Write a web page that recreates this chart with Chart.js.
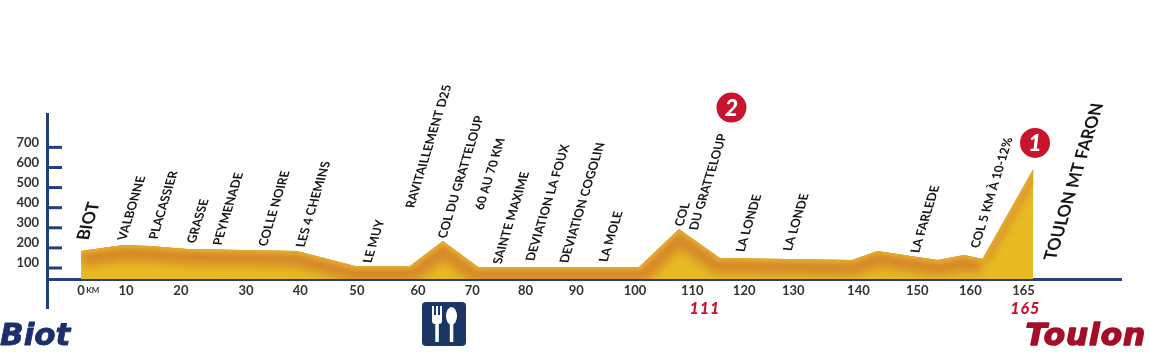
<!DOCTYPE html>
<html>
<head>
<meta charset="utf-8">
<style>
  html, body { margin: 0; padding: 0; background: #fff; }
  #wrap { width: 1149px; height: 355px; }
</style>
<script src="https://cdn.jsdelivr.net/npm/chart.js@4"></script>
</head>
<body>
<div id="wrap"><canvas id="profile"></canvas></div>
<script>
// profile of the stage, x is position along the drawn axis, y is altitude
const profileKm = [0, 7.3, 12, 18.4, 37.4, 47.5, 57, 62.7, 68.8, 96.7, 103.6, 110.7, 133.6, 138, 148.4, 153, 156.2, 165];
const profileAlt = [185, 214, 209, 195, 185, 110, 110, 234, 105, 105, 294, 150, 140, 185, 140, 165, 145, 592];

const altTicks = [100, 200, 300, 400, 500, 600, 700];
const kmTickPos = [0, 7.8, 17.3, 28.6, 38, 47.8, 58.4, 67.8, 77, 85.8, 96, 105.9, 114.9, 123.4, 134.7, 144.9, 154.1, 163.3];
const kmTickLabels = ['0', '10', '20', '30', '40', '50', '60', '70', '80', '90', '100', '110', '120', '130', '140', '150', '160', '165'];

const placeNames = ['BIOT', 'VALBONNE', 'PLACASSIER', 'GRASSE', 'PEYMENADE', 'COLLE NOIRE', 'LES 4 CHEMINS', 'LE MUY',
  'RAVITAILLEMENT D25', 'COL DU GRATTELOUP', '60 AU 70 KM', 'SAINTE MAXIME', 'DEVIATION LA FOUX', 'DEVIATION COGOLIN',
  'LA MOLE', 'COL', 'DU GRATTELOUP', 'LA LONDE', 'LA LONDE', 'LA FARLEDE', 'COL 5 KM À 10-12%', 'TOULON MT FARON'];
const placeKm = [0.3, 7.1, 12.5, 19.1, 23.6, 31.5, 38, 49.6, 57, 62.6, 69, 72.1, 77.8, 83.7, 90.5, 103.6, 106.1, 114.2, 122.4, 144.5, 154.9, 167.9];
const placeAlt = [239, 239, 244, 224, 214, 209, 204, 125, 399, 249, 389, 120, 135, 125, 130, 309, 289, 180, 185, 175, 200, 140];
const bigPlaces = ['BIOT', 'TOULON MT FARON'];

const sprintKm = [112.7, 165.3];
const sprintAlt = [898, 722];
const sprintLabels = ['2', '1'];

const passKm = [108.1, 163.6];
const passLabels = ['111', '165'];
const passAlt = -104;

const baseAlt = 45;
const NAVY = '#24407a';
const RED = '#c8142c';

const pt = (scale, v) => scale.getPixelForValue(v);

// orange band following the top edge, over the yellow fill
const shading = {
  id: 'shading',
  afterDatasetDraw(chart, args) {
    if (args.index !== 0) return;
    const ctx = chart.ctx;
    const pts = chart.getDatasetMeta(0).data;
    const last = pts.length - 1;
    const base = pt(chart.scales.y, baseAlt);
    ctx.save();
    ctx.beginPath();
    ctx.moveTo(pts[0].x, base);
    pts.forEach(p => ctx.lineTo(p.x, p.y));
    ctx.lineTo(pts[last].x, base);
    ctx.closePath();
    ctx.clip();
    const edge = (from, to) => {
      ctx.beginPath();
      pts.slice(from, to + 1).forEach((p, i) => i ? ctx.lineTo(p.x, p.y) : ctx.moveTo(p.x, p.y));
      ctx.stroke();
    };
    ctx.lineJoin = 'round';
    ctx.filter = 'blur(5px)';
    ctx.strokeStyle = '#d68a28';
    ctx.lineWidth = 32;
    edge(0, last - 1);
    // the final climb has a much thinner band
    ctx.lineWidth = 12;
    edge(last - 1, last);
    ctx.filter = 'blur(2px)';
    ctx.strokeStyle = '#e4ac30';
    ctx.lineWidth = 7;
    edge(0, last);
    ctx.restore();
  }
};

const annotations = {
  id: 'annotations',
  afterDraw(chart) {
    const { ctx, scales: { x, y } } = chart;
    ctx.save();

    // tick marks go inwards from the altitude axis
    ctx.strokeStyle = NAVY;
    ctx.lineWidth = 3;
    altTicks.forEach(v => {
      ctx.beginPath();
      ctx.moveTo(chart.chartArea.left, pt(y, v));
      ctx.lineTo(chart.chartArea.left + 15, pt(y, v));
      ctx.stroke();
    });

    // slanted place names
    ctx.fillStyle = '#161616';
    ctx.textBaseline = 'middle';
    ctx.textAlign = 'left';
    placeNames.forEach((name, i) => {
      const big = bigPlaces.includes(name);
      ctx.save();
      ctx.translate(pt(x, placeKm[i]), pt(y, placeAlt[i]));
      ctx.rotate(-73 * Math.PI / 180);
      ctx.transform(1, 0, 0.2, 1, 0, 0);
      ctx.font = big ? 'bold 17px Lato' : 'bold 12.3px Lato';
      ctx.fillText(name, 0, 0);
      ctx.restore();
    });

    // small KM next to the zero
    ctx.fillStyle = '#333';
    ctx.font = 'bold 8px Lato';
    ctx.fillText('KM', pt(x, 0.9), pt(y, -14));

    // red distance marks
    ctx.fillStyle = RED;
    ctx.textAlign = 'center';
    ctx.font = 'italic 900 16px Lato';
    ctx.letterSpacing = '1px';
    passLabels.forEach((t, i) => ctx.fillText(t, pt(x, passKm[i]), pt(y, passAlt)));
    ctx.letterSpacing = '0px';

    // white figures on the sprint badges
    ctx.fillStyle = '#fff';
    ctx.font = 'italic 900 23px Lato';
    sprintLabels.forEach((t, i) => ctx.fillText(t, pt(x, sprintKm[i]), pt(y, sprintAlt[i]) + 1));

    // start and finish names
    ctx.textAlign = 'left';
    ctx.textBaseline = 'alphabetic';
    ctx.font = 'italic bold 31px "DejaVu Sans"';
    ctx.lineJoin = 'round';
    ctx.lineWidth = 0.8;
    ctx.fillStyle = ctx.strokeStyle = '#1d2f6b';
    ctx.fillText('Biot', 0, 345);
    ctx.strokeText('Biot', 0, 345);
    ctx.lineWidth = 1.6;
    ctx.fillStyle = ctx.strokeStyle = '#a50f25';
    ctx.textAlign = 'right';
    ctx.letterSpacing = '1px';
    ctx.fillText('Toulon', 1146, 345);
    ctx.strokeText('Toulon', 1146, 345);
    ctx.letterSpacing = '0px';

    // meal icon
    ctx.fillStyle = '#1b3564';
    ctx.beginPath();
    ctx.roundRect(422, 302, 44, 44, 4);
    ctx.fill();
    ctx.fillStyle = '#fff';
    [432, 436, 440].forEach(tx => ctx.fillRect(tx, 306, 2, 12));
    ctx.beginPath();
    ctx.roundRect(432, 315, 10, 9, 3);
    ctx.fill();
    ctx.fillRect(435.3, 322, 3.5, 20);
    ctx.fillRect(449.8, 322, 3.5, 20);
    ctx.beginPath();
    ctx.ellipse(451.5, 316, 5.5, 9, 0, 0, Math.PI * 2);
    ctx.fill();
    ctx.restore();
  }
};

new Chart(document.getElementById('profile'), {
  data: {
    datasets: [{
      type: 'line',
      data: profileKm.map((k, i) => ({ x: k, y: profileAlt[i] })),
      borderWidth: 0,
      pointRadius: 0,
      tension: 0,
      fill: { value: baseAlt },
      backgroundColor: '#e8bb22'
    }, {
      type: 'scatter',
      data: sprintKm.map((k, i) => ({ x: k, y: sprintAlt[i] })),
      pointRadius: 15,
      pointBackgroundColor: RED,
      pointBorderWidth: 0,
      clip: false
    }]
  },
  options: {
    responsive: true,
    maintainAspectRatio: false,
    animation: false,
    layout: { padding: { top: 114, right: 28, bottom: 47, left: 0 } },
    plugins: { legend: { display: false }, tooltip: { enabled: false } },
    scales: {
      x: {
        type: 'linear',
        min: -5.9,
        max: 180.2,
        position: { y: baseAlt },
        z: 1,
        grid: { display: false, drawTicks: false },
        border: { color: NAVY, width: 3 },
        afterBuildTicks: s => { s.ticks = kmTickPos.map(v => ({ value: v })); },
        ticks: {
          autoSkip: false,
          maxRotation: 0,
          padding: 4,
          color: '#333',
          font: { family: 'Lato', size: 13, weight: 'bold' },
          callback: v => kmTickLabels[kmTickPos.indexOf(v)]
        }
      },
      y: {
        type: 'linear',
        min: -99,
        max: 866,
        position: 'left',
        afterFit: s => { s.width = 47; },
        grid: { display: false, drawTicks: false },
        border: { color: NAVY, width: 3 },
        afterBuildTicks: s => { s.ticks = altTicks.map(v => ({ value: v })); },
        ticks: {
          padding: 8,
          labelOffset: -5,
          color: '#333',
          font: { family: 'Lato', size: 13, weight: 'bold' }
        }
      }
    }
  },
  plugins: [shading, annotations]
});
</script>
</body>
</html>
